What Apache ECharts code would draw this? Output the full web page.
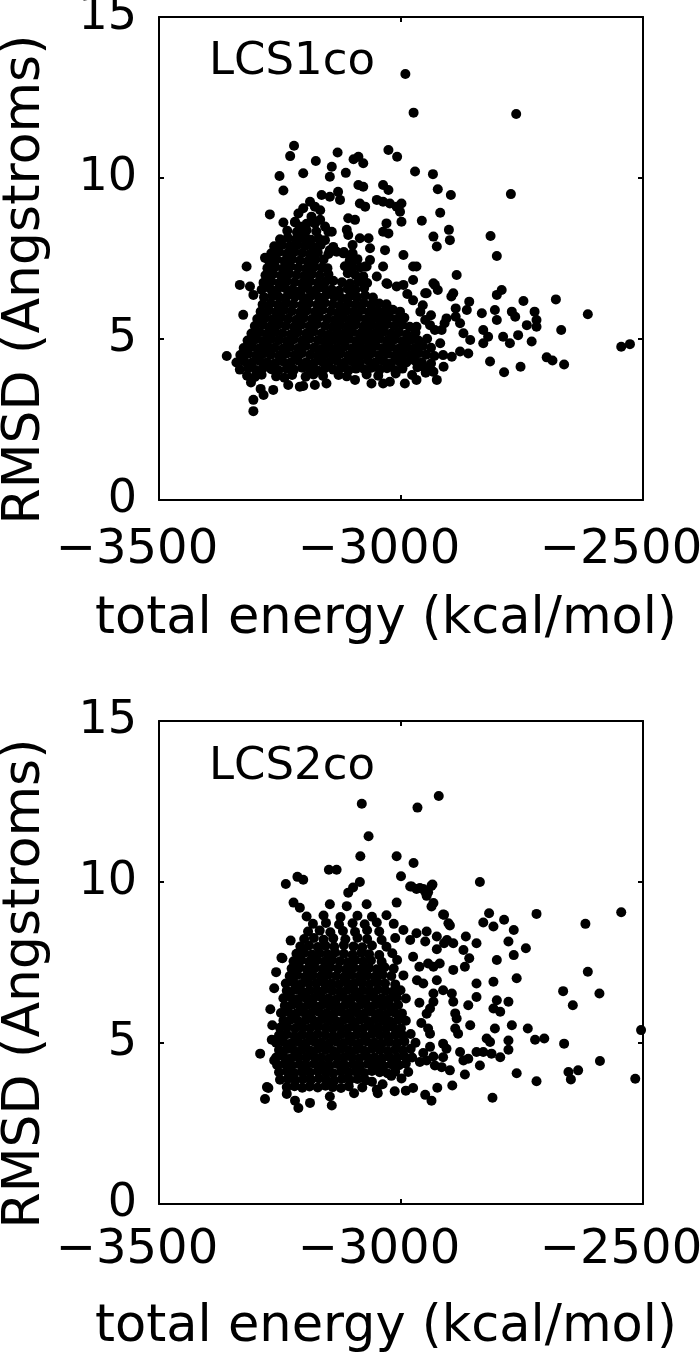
<!DOCTYPE html>
<html>
<head>
<meta charset="utf-8">
<script src="https://cdn.jsdelivr.net/npm/echarts@6/dist/echarts.min.js"></script>
<style>html,body{margin:0;padding:0;background:#fff}#c{width:700px;height:1354px}</style>
</head>
<body>
<div id="c"></div>
<script>
const xTicks = [-3500, -3000, -2500];
const xTickLabels = ['\u22123500', '\u22123000', '\u22122500'];
const yTicks = [0, 5, 10, 15];
const yTickLabels = ['0', '5', '10', '15'];
const panelLabels = ['LCS1co', 'LCS2co'];
const xTitle = 'total energy (kcal/mol)';
const yTitle = 'RMSD (Angstroms)';

// LCS1co: [total energy, RMSD] — dense core
const lcs1Core = [
[-3318,3.86],[-3302,3.82],[-3288,3.89],[-3258,3.84],[-3241,3.80],[-3225,3.88],[-3197,3.83],[-3181,3.90],[-3161,3.85],[-3129,3.88],[-3112,3.84],[-3071,3.90],[-3047,3.86],[-3011,3.93],[-2977,3.88],[-2949,3.95],
[-3333,4.05],[-3316,4.09],[-3300,4.04],[-3285,4.10],[-3268,4.06],[-3253,4.03],[-3236,4.08],[-3221,4.05],[-3204,4.11],[-3189,4.06],[-3172,4.02],[-3157,4.09],[-3140,4.05],[-3124,4.10],[-3108,4.04],[-3093,4.08],[-3076,4.06],[-3061,4.11],[-3044,4.05],[-3029,4.09],[-3012,4.03],[-2997,4.08],[-2966,4.12],[-2941,4.06],
[-3340,4.27],[-3324,4.31],[-3308,4.26],[-3292,4.32],[-3277,4.28],[-3260,4.25],[-3245,4.31],[-3228,4.27],[-3213,4.33],[-3196,4.28],[-3181,4.24],[-3164,4.30],[-3149,4.27],[-3132,4.32],[-3117,4.26],[-3100,4.30],[-3085,4.28],[-3068,4.33],[-3053,4.27],[-3036,4.31],[-3021,4.25],[-3004,4.30],[-2989,4.27],[-2972,4.33],[-2957,4.28],[-2938,4.24],
[-3332,4.50],[-3316,4.54],[-3300,4.49],[-3284,4.55],[-3269,4.51],[-3252,4.48],[-3237,4.54],[-3220,4.50],[-3205,4.56],[-3188,4.51],[-3173,4.47],[-3156,4.53],[-3141,4.50],[-3124,4.55],[-3109,4.49],[-3092,4.53],[-3077,4.51],[-3060,4.56],[-3045,4.50],[-3028,4.54],[-3013,4.48],[-2996,4.53],[-2981,4.50],[-2964,4.56],[-2948,4.51],[-2931,4.47],
[-3325,4.72],[-3308,4.76],[-3293,4.71],[-3276,4.77],[-3261,4.73],[-3244,4.70],[-3229,4.76],[-3212,4.72],[-3197,4.78],[-3180,4.73],[-3165,4.69],[-3148,4.75],[-3133,4.72],[-3116,4.77],[-3101,4.71],[-3084,4.75],[-3069,4.73],[-3052,4.78],[-3037,4.72],[-3020,4.76],[-3005,4.70],[-2988,4.75],[-2972,4.72],[-2955,4.78],[-2938,4.73],
[-3317,4.95],[-3300,4.99],[-3285,4.94],[-3268,5.00],[-3253,4.96],[-3236,4.93],[-3221,4.99],[-3204,4.95],[-3189,5.01],[-3172,4.96],[-3157,4.92],[-3140,4.98],[-3125,4.95],[-3108,5.00],[-3093,4.94],[-3076,4.98],[-3061,4.96],[-3044,5.01],[-3029,4.95],[-3012,4.99],[-2997,4.93],[-2980,4.98],[-2964,4.95],[-2946,5.01],
[-3309,5.17],[-3292,5.21],[-3277,5.16],[-3260,5.22],[-3245,5.18],[-3228,5.15],[-3213,5.21],[-3196,5.17],[-3181,5.23],[-3164,5.18],[-3149,5.14],[-3132,5.20],[-3117,5.17],[-3100,5.22],[-3085,5.16],[-3068,5.20],[-3053,5.18],[-3036,5.23],[-3021,5.17],[-3004,5.21],[-2988,5.15],[-2970,5.20],
[-3302,5.40],[-3285,5.44],[-3270,5.39],[-3253,5.45],[-3238,5.41],[-3221,5.38],[-3206,5.44],[-3189,5.40],[-3174,5.46],[-3157,5.41],[-3142,5.37],[-3125,5.43],[-3110,5.40],[-3093,5.45],[-3078,5.39],[-3061,5.43],[-3046,5.41],[-3029,5.46],[-3014,5.40],[-2997,5.44],[-2982,5.38],
[-3297,5.62],[-3280,5.66],[-3265,5.61],[-3248,5.67],[-3233,5.63],[-3216,5.60],[-3201,5.66],[-3184,5.62],[-3169,5.68],[-3152,5.63],[-3137,5.59],[-3120,5.65],[-3105,5.62],[-3088,5.67],[-3073,5.61],[-3056,5.65],[-3041,5.63],[-3024,5.68],[-3009,5.62],[-2993,5.66],
[-3290,5.85],[-3273,5.89],[-3258,5.84],[-3241,5.90],[-3226,5.86],[-3209,5.83],[-3194,5.89],[-3177,5.85],[-3162,5.91],[-3145,5.86],[-3130,5.82],[-3113,5.88],[-3098,5.85],[-3081,5.90],[-3066,5.84],[-3049,5.88],[-3034,5.86],[-3017,5.91],[-3002,5.85],
[-3286,6.07],[-3269,6.11],[-3254,6.06],[-3237,6.12],[-3222,6.08],[-3205,6.05],[-3190,6.11],[-3173,6.07],[-3158,6.13],[-3141,6.08],[-3126,6.04],[-3109,6.10],[-3094,6.07],[-3077,6.12],[-3062,6.06],[-3045,6.10],[-3030,6.08],
[-3283,6.30],[-3266,6.34],[-3251,6.29],[-3234,6.35],[-3219,6.31],[-3202,6.28],[-3187,6.34],[-3170,6.30],[-3155,6.36],[-3138,6.31],[-3123,6.27],[-3106,6.33],[-3091,6.30],[-3074,6.35],[-3058,6.29],
[-3288,6.53],[-3271,6.57],[-3256,6.52],[-3239,6.58],[-3224,6.54],[-3207,6.51],[-3192,6.57],[-3175,6.53],[-3160,6.59],[-3143,6.54],[-3128,6.50],[-3110,6.56],[-3094,6.53],[-3076,6.58],
[-3284,6.75],[-3268,6.79],[-3252,6.74],[-3236,6.80],[-3220,6.76],[-3204,6.73],[-3188,6.79],[-3172,6.75],[-3156,6.78],[-3140,6.81],[-3122,6.76],[-3105,6.72],[-3088,6.78],[-3070,6.74],
[-3280,6.98],[-3264,7.02],[-3248,6.97],[-3232,7.03],[-3216,6.99],[-3200,6.96],[-3184,7.02],[-3168,6.98],[-3150,7.01],[-3110,7.04],[-3094,6.99],[-3078,6.95],
[-3276,7.20],[-3260,7.24],[-3244,7.19],[-3228,7.25],[-3212,7.21],[-3196,7.18],[-3180,7.24],[-3164,7.21],[-3152,7.20],[-3116,7.26],[-3100,7.21],[-3084,7.23],
[-3273,7.43],[-3257,7.47],[-3241,7.42],[-3225,7.48],[-3209,7.44],[-3193,7.41],[-3177,7.46],[-3160,7.47],[-3106,7.43],[-3090,7.48],
[-3268,7.66],[-3252,7.70],[-3236,7.65],[-3220,7.71],[-3204,7.67],[-3188,7.64],[-3172,7.69],[-3150,7.64],[-3118,7.70],[-3100,7.66],
[-3262,7.88],[-3246,7.92],[-3230,7.87],[-3214,7.93],[-3198,7.89],[-3182,7.86],[-3166,7.92],[-3140,7.86],[-3100,7.92],
[-3250,8.10],[-3234,8.14],[-3218,8.09],[-3202,8.13],[-3186,8.08],[-3170,8.12],
[-3235,8.36],[-3215,8.32],[-3195,8.38],[-3175,8.34],
[-3219,8.62],[-3195,8.58],[-3178,8.60]
];
// LCS1co: scattered points
const lcs1Outer = [
[-2991,13.23],[-2974,12.03],[-2762,11.99],[-2773,9.50],[-2815,8.20],[-2802,7.58],
[-2680,6.23],[-2614,5.77],[-2669,5.28],[-2545,4.76],[-2527,4.84],[-2663,4.21],[-2699,4.43],[-2687,4.33],[-2753,4.14],[-2787,3.97],[-2816,4.30],
[-2724,5.85],[-2720,5.59],[-2720,5.38],[-2747,6.18],[-2740,5.43],[-2730,4.92],[-2771,5.85],[-2764,5.69],[-2792,6.52],[-2802,6.37],[-2806,5.90],[-2802,5.59],[-2830,5.28],[-2830,4.87],[-2775,4.87],[-2789,5.07],[-2758,5.12],[-2833,5.80],[-2864,5.90],[-2859,6.16],[-2820,5.07],[-2871,5.18],[-2857,4.97],
[-2885,6.99],[-2892,6.42],[-2896,6.32],[-2930,6.68],[-2947,6.42],[-2887,5.95],[-2887,5.69],[-2878,5.49],[-2906,5.64],[-2910,5.49],[-2916,5.28],[-2919,4.87],[-2913,4.50],[-2895,4.45],[-2878,4.61],[-2861,4.55],[-2912,4.14],[-2926,3.73],[-2933,3.98],[-2950,4.09],[-2968,3.73],[-2992,3.62],[-3023,3.67],[-3037,3.62],[-3061,3.62],[-3095,3.73],[-3154,3.62],[-3178,3.57],[-3202,3.54],[-3209,3.52],[-3233,3.57],[-3264,3.42],[-3284,3.26],[-3305,3.11],[-3305,2.76],[-3290,3.45],[-3310,3.65],[-3360,4.47],[-3326,5.75],[-3333,6.68],[-3312,6.63],[-3305,6.37],[-3319,7.25],[-3281,7.52],[-3271,7.40],
[-3271,8.87],[-3243,8.62],[-3251,10.06],[-3243,9.61],[-3229,10.68],[-3221,11.00],[-3202,10.15],[-3176,10.53],[-3143,10.35],[-3147,10.04],[-3131,10.79],[-3114,10.16],[-3098,10.58],[-3088,10.66],[-3078,10.46],[-3026,10.87],[-3008,10.66],[-2971,10.20],[-2934,10.12],[-2924,9.65],[-2897,9.47],[-2919,8.92],[-2957,8.67],[-2901,8.39],[-2899,8.07],[-2933,8.18],[-2926,7.87],[-2968,7.25],[-2995,7.61],[-3033,7.76],
[-3088,9.78],[-3078,9.73],[-3037,9.78],[-3026,9.63],[-3164,9.47],[-3147,9.42],[-3130,9.57],[-3126,9.32],[-3188,9.26],[-3178,9.11],[-3167,9.00],[-3202,9.06],[-3212,8.90],
[-3219,8.64],[-3209,8.49],[-3202,8.33],[-3195,8.13],[-3185,8.80],[-3178,8.59],[-3167,8.70],[-3157,8.49],[-3150,8.33],[-3157,8.07],[-3167,8.02],[-3143,8.33],
[-3109,8.75],[-3095,8.70],[-3112,8.39],[-3109,8.23],[-3085,9.21],[-3074,9.11],
[-3050,9.32],[-3037,9.26],[-3023,9.21],[-3009,9.11],[-2999,9.21],[-3002,8.95],[-2999,8.64],[-3030,8.59],[-3037,8.33],[-3026,8.28],
[-3085,8.13],[-3067,8.13],[-3064,7.82],[-3147,7.76],[-3133,7.71],[-3119,7.66],[-3105,7.56],[-3095,7.45],[-3074,7.25],[-3064,7.45],[-3050,6.94],
[-3030,6.73],[-3009,6.63],[-2995,6.68],[-2975,7.25],[-2975,6.83],[-2950,6.42],[-2933,6.73],[-2924,6.52],
[-3028,6.71],[-2987,6.40],[-3037,7.25],[-3071,7.25],
[-2960,5.85],[-2950,5.59],[-2938,5.74],[-2940,5.43],[-2930,5.28],[-2968,5.38],[-2955,6.05],[-2975,6.20]
];

// LCS2co: dense core
const lcs2Core = [
[-3236,3.63],[-3220,3.66],[-3204,3.61],[-3189,3.65],[-3172,3.62],[-3156,3.67],[-3141,3.63],[-3124,3.60],[-3108,3.66],
[-3250,3.86],[-3234,3.89],[-3218,3.84],[-3202,3.88],[-3186,3.85],[-3170,3.90],[-3154,3.86],[-3138,3.83],[-3122,3.89],[-3106,3.85],[-3090,3.88],[-3073,3.84],
[-3252,4.09],[-3236,4.12],[-3220,4.07],[-3204,4.11],[-3188,4.08],[-3172,4.13],[-3156,4.09],[-3140,4.06],[-3124,4.12],[-3108,4.08],[-3092,4.11],[-3076,4.07],[-3060,4.13],[-3044,4.09],[-3028,4.06],[-3012,4.11],
[-3256,4.32],[-3241,4.35],[-3226,4.30],[-3210,4.34],[-3195,4.31],[-3179,4.36],[-3163,4.32],[-3148,4.29],[-3132,4.35],[-3116,4.31],[-3100,4.34],[-3084,4.30],[-3068,4.36],[-3052,4.32],[-3036,4.29],[-3020,4.34],[-3004,4.31],[-2990,4.36],
[-3258,4.55],[-3243,4.58],[-3227,4.53],[-3212,4.57],[-3196,4.54],[-3180,4.59],[-3165,4.55],[-3149,4.52],[-3133,4.58],[-3118,4.54],[-3102,4.57],[-3086,4.53],[-3071,4.59],[-3055,4.55],[-3040,4.52],[-3024,4.57],[-3008,4.54],[-2993,4.59],[-2977,4.55],
[-3252,4.78],[-3236,4.81],[-3220,4.76],[-3204,4.80],[-3188,4.77],[-3172,4.82],[-3156,4.78],[-3140,4.75],[-3124,4.81],[-3108,4.77],[-3092,4.80],[-3076,4.76],[-3060,4.82],[-3044,4.78],[-3028,4.75],[-3012,4.80],[-2996,4.77],[-2980,4.82],
[-3258,5.01],[-3243,5.04],[-3227,4.99],[-3212,5.03],[-3196,5.00],[-3180,5.05],[-3165,5.01],[-3149,4.98],[-3133,5.04],[-3118,5.00],[-3102,5.03],[-3086,4.99],[-3071,5.05],[-3055,5.01],[-3040,4.98],[-3024,5.03],[-3008,5.00],[-2993,5.05],[-2970,5.01],
[-3252,5.24],[-3236,5.27],[-3220,5.22],[-3204,5.26],[-3188,5.23],[-3172,5.28],[-3156,5.24],[-3140,5.21],[-3124,5.27],[-3108,5.23],[-3092,5.26],[-3076,5.22],[-3060,5.28],[-3044,5.24],[-3028,5.21],[-3012,5.26],[-2996,5.23],[-2980,5.28],
[-3266,5.55],[-3250,5.47],[-3235,5.50],[-3219,5.45],[-3203,5.49],[-3188,5.46],[-3172,5.51],[-3156,5.47],[-3141,5.44],[-3125,5.50],[-3110,5.46],[-3094,5.49],[-3078,5.45],[-3063,5.51],[-3047,5.47],[-3031,5.44],[-3016,5.49],[-3000,5.46],
[-3243,5.70],[-3227,5.73],[-3212,5.68],[-3196,5.72],[-3180,5.69],[-3164,5.74],[-3148,5.70],[-3132,5.67],[-3117,5.73],[-3101,5.69],[-3085,5.72],[-3069,5.68],[-3053,5.74],[-3038,5.70],[-3022,5.67],[-3006,5.72],[-2990,5.69],[-2958,5.62],
[-3270,6.05],[-3248,5.93],[-3233,5.96],[-3217,5.91],[-3201,5.95],[-3186,5.92],[-3170,5.97],[-3154,5.93],[-3139,5.90],[-3123,5.96],[-3108,5.92],[-3092,5.95],[-3076,5.91],[-3061,5.97],[-3045,5.93],[-3030,5.90],[-3014,5.95],[-2998,5.92],
[-3240,6.16],[-3225,6.19],[-3209,6.14],[-3193,6.18],[-3178,6.15],[-3162,6.20],[-3146,6.16],[-3131,6.13],[-3115,6.19],[-3100,6.15],[-3084,6.18],[-3068,6.14],[-3053,6.20],[-3037,6.16],[-3021,6.13],[-3006,6.18],[-2962,6.25],
[-3243,6.39],[-3228,6.42],[-3212,6.37],[-3197,6.41],[-3181,6.38],[-3165,6.43],[-3150,6.39],[-3134,6.36],[-3119,6.42],[-3103,6.38],[-3087,6.41],[-3072,6.37],[-3056,6.43],[-3040,6.39],[-3025,6.36],[-3009,6.41],[-2990,6.38],
[-3262,6.70],[-3236,6.62],[-3220,6.65],[-3205,6.60],[-3189,6.64],[-3173,6.61],[-3158,6.66],[-3142,6.62],[-3126,6.59],[-3111,6.65],[-3095,6.61],[-3079,6.64],[-3064,6.60],[-3048,6.66],[-3032,6.62],[-3017,6.59],[-3001,6.64],
[-3238,6.85],[-3222,6.88],[-3206,6.83],[-3191,6.87],[-3175,6.84],[-3159,6.89],[-3144,6.85],[-3128,6.82],[-3112,6.88],[-3097,6.84],[-3081,6.87],[-3065,6.83],[-3049,6.89],[-3033,6.85],[-3012,6.82],[-2967,6.95],
[-3258,7.20],[-3230,7.08],[-3214,7.11],[-3198,7.06],[-3182,7.10],[-3166,7.07],[-3150,7.12],[-3134,7.08],[-3118,7.05],[-3102,7.11],[-3086,7.07],[-3070,7.10],[-3054,7.06],[-3038,7.12],[-3020,7.08],[-2995,7.10],
[-3226,7.31],[-3210,7.34],[-3194,7.29],[-3178,7.33],[-3162,7.30],[-3146,7.35],[-3130,7.31],[-3114,7.28],[-3098,7.34],[-3082,7.30],[-3066,7.33],[-3050,7.29],[-3034,7.35],[-3015,7.31],
[-3222,7.54],[-3206,7.57],[-3190,7.52],[-3174,7.56],[-3158,7.53],[-3142,7.58],[-3126,7.54],[-3110,7.51],[-3094,7.57],[-3078,7.53],[-3062,7.56],[-3040,7.52],[-3008,7.58],
[-3216,7.77],[-3200,7.80],[-3184,7.75],[-3168,7.79],[-3152,7.76],[-3136,7.81],[-3118,7.77],[-3100,7.74],[-3082,7.80],[-3066,7.76],[-3045,7.73],[-3018,7.79],
[-3208,8.00],[-3190,8.03],[-3172,7.98],[-3156,8.02],[-3138,7.99],[-3118,8.04],[-3098,8.00],[-3080,7.97],[-3060,8.03],[-3030,7.99],
[-3200,8.23],[-3180,8.26],[-3160,8.21],[-3140,8.25],[-3115,8.22],[-3090,8.27],[-3070,8.23],[-3040,8.20],[-3012,8.26],
[-3192,8.46],[-3168,8.49],[-3146,8.44],[-3120,8.48],[-3095,8.45],[-3070,8.50],[-3045,8.46],
[-3182,8.70],[-3155,8.73],[-3128,8.68],[-3100,8.72],[-3075,8.69],[-3050,8.74],[-3015,8.70],
[-3195,8.93],[-3160,8.96],[-3125,8.91],[-3090,8.95],[-3060,8.92],[-3030,8.97],
[-3147,9.31],[-3112,9.25],[-3071,9.31],[-3009,9.36]
];
// LCS2co: scattered points
const lcs2Outer = [
[-2922,12.67],[-3081,12.43],[-2966,12.31],[-3067,11.42],[-3084,10.80],[-3009,10.80],[-2974,10.59],[-3149,10.38],[-3133,10.38],[-3214,10.16],[-3202,10.07],[-3238,9.94],[-3000,10.18],[-2837,10.00],[-2720,9.01],[-2545,9.06],[-2619,8.70],[-2614,7.21],[-2665,6.61],[-2590,6.54],[-2645,6.17],[-2663,4.98],[-2589,4.44],[-2504,5.40],[-2516,3.89],[-2654,4.10],[-2649,3.87],[-2634,4.15],[-2720,3.81],[-2761,4.06],[-2811,3.30],[-2723,5.10],[-2704,5.14],[-2738,5.45],[-2771,5.55],[-2806,5.45],[-2823,5.14],[-2816,5.03],[-2778,5.08],[-2778,4.79],[-2795,4.56],[-2813,4.67],[-2830,4.72],[-2844,4.72],[-2837,4.30],[-2868,4.02],[-2861,4.51],[-2871,4.46],[-2894,3.68],[-2925,3.61],[-2937,3.21],[-2950,3.39],[-2990,3.52],[-3013,3.50],[-3048,3.44],[-3097,3.44],[-3143,3.06],[-3147,3.34],[-3188,3.14],[-3212,2.98],[-3219,3.21],[-3236,3.42],[-3281,3.26],[-3274,3.60],[-3277,3.63],[-3291,4.67],[-3262,4.46],[-3267,5.10],[-3245,7.63],[-3247,7.65],[-3228,8.18],[-3222,9.36],[-3209,9.20],
[-3085,10.00],[-3099,9.83],[-3109,9.67],[-2981,9.86],[-2968,9.78],[-2954,9.78],[-2937,9.88],[-2947,9.57],[-2937,9.24],[-2913,8.99],[-2899,8.65],
[-2802,7.58],[-2809,6.90],[-2761,7.01],[-2778,6.28],[-2802,6.33],[-2809,6.07],[-2795,5.97],[-2787,8.83],[-2809,8.62],[-2830,8.74],[-2818,9.03],[-2767,8.51],[-2778,8.15],[-2767,7.73],[-2742,7.94],[-2844,8.10],[-2866,8.31],[-2871,7.89],[-2859,7.63],[-2868,7.37],[-2844,6.85],[-2844,6.43],[-2861,6.17],[-2857,5.55],[-2882,5.29],[-2878,4.72],[-2885,5.76],[-2888,5.92],[-2895,6.54],[-2892,7.27],[-2911,8.98],[-2902,8.72],[-2905,8.20],[-2926,8.31],[-2933,9.35],[-2944,9.68],[-2935,9.92],[-2950,9.70],[-2961,9.81],[-2978,9.86],
[-2911,8.10],[-2892,8.10],[-2920,7.47],[-2926,6.95],[-2913,6.64],[-2892,6.28],[-2888,5.45],[-2913,4.98],[-2906,4.82],[-2913,4.56],[-2916,4.25],[-2899,4.15],[-2930,4.30],[-2933,4.58],[-2947,4.46],[-2954,4.69],[-2961,4.41],[-2940,4.88],[-2940,5.29],[-2944,5.45],[-2947,5.91],[-2940,6.07],[-2933,6.28],[-2933,6.54],[-2933,7.37],[-2944,7.47],[-2962,7.37],[-2954,6.85],[-2968,8.41],[-2947,8.46],[-2950,8.15],[-2926,7.91],[-2981,8.20],[-2975,7.68],[-2995,8.51],
[-3080,3.62],[-3060,3.80],[-3038,3.72],[-3020,3.98],[-2999,3.90],[-2985,4.10],[-3050,3.55],[-2975,3.60]
];

const FONT = 'DejaVu Sans';
const chart = echarts.init(document.getElementById('c'), null, {renderer: 'canvas'});

function xAx(grid, pos, labelMargin, nameGap) {
  const main = pos === 'bottom';
  return {
    type: 'value', gridIndex: grid, position: pos,
    min: xTicks[0], max: xTicks[xTicks.length - 1], interval: 500,
    axisLine: {show: true, onZero: false, lineStyle: {color: '#000', width: 2}},
    axisTick: {show: true, inside: true, length: 5, lineStyle: {color: '#000', width: 2}},
    splitLine: {show: false},
    axisLabel: {
      show: main, margin: labelMargin, fontFamily: FONT, fontSize: 48, color: '#000',
      padding: [0, 44, 0, 0], showMinLabel: true, showMaxLabel: true, hideOverlap: false,
      formatter: v => { const i = xTicks.indexOf(v); return i >= 0 ? xTickLabels[i] : ''; }
    },
    name: main ? xTitle : '', nameLocation: 'middle', nameGap: nameGap,
    nameTextStyle: {fontFamily: FONT, fontSize: 51, color: '#000', padding: [0, 30, 0, 0]}
  };
}
function yAx(grid, pos) {
  const main = pos === 'left';
  return {
    type: 'value', gridIndex: grid, position: pos,
    min: yTicks[0], max: yTicks[yTicks.length - 1], interval: 5,
    axisLine: {show: true, onZero: false, lineStyle: {color: '#000', width: 2}},
    axisTick: {show: true, inside: true, length: 5, lineStyle: {color: '#000', width: 2}},
    splitLine: {show: false},
    axisLabel: {
      show: main, margin: 22, fontFamily: FONT, fontSize: 46, color: '#000',
      showMinLabel: true, showMaxLabel: true, hideOverlap: false,
      formatter: v => { const i = yTicks.indexOf(v); return i >= 0 ? yTickLabels[i] : ''; }
    },
    name: main ? yTitle : '', nameLocation: 'middle', nameRotate: 90, nameGap: 108,
    nameTextStyle: {fontFamily: FONT, fontSize: 52, color: '#000', padding: [0, 42, 0, 0]}
  };
}
function sc(data, gi) {
  return {
    type: 'scatter', xAxisIndex: gi * 2, yAxisIndex: gi * 2, data: data,
    symbol: 'circle', symbolSize: 10, itemStyle: {color: '#000', opacity: 1},
    emphasis: {disabled: true}, silent: true
  };
}

chart.setOption({
  animation: false,
  backgroundColor: '#fff',
  title: [
    {text: panelLabels[0], left: 209, top: 40, padding: 0,
     textStyle: {fontFamily: FONT, fontSize: 45, fontWeight: 'normal', color: '#000'}},
    {text: panelLabels[1], left: 209, top: 745, padding: 0,
     textStyle: {fontFamily: FONT, fontSize: 45, fontWeight: 'normal', color: '#000'}}
  ],
  grid: [
    {left: 159, top: 17, width: 484, height: 483, containLabel: false, outerBoundsMode: 'none'},
    {left: 159, top: 721, width: 484, height: 483, containLabel: false, outerBoundsMode: 'none'}
  ],
  xAxis: [xAx(0, 'bottom', 27, 94), xAx(0, 'top', 0, 0), xAx(1, 'bottom', 23, 98), xAx(1, 'top', 0, 0)],
  yAxis: [yAx(0, 'left'), yAx(0, 'right'), yAx(1, 'left'), yAx(1, 'right')],
  series: [sc(lcs1Core, 0), sc(lcs1Outer, 0), sc(lcs2Core, 1), sc(lcs2Outer, 1)]
});
</script>
</body>
</html>
